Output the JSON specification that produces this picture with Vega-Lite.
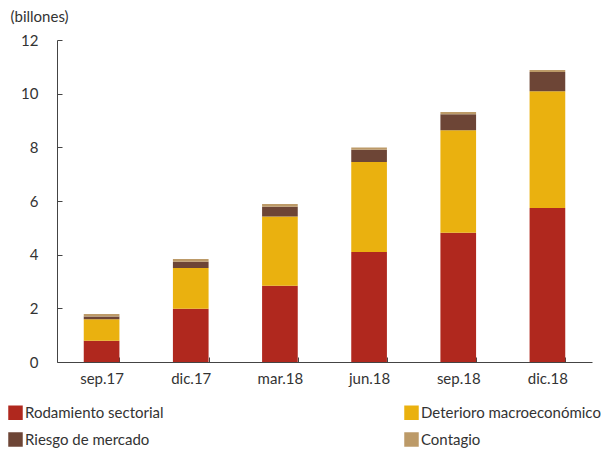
{
  "$schema": "https://vega.github.io/schema/vega-lite/v6.json",
  "width": 535,
  "height": 322,
  "autosize": {"type": "none"},
  "padding": {"left": 57, "top": 40, "right": 19, "bottom": 89},
  "background": "white",
  "config": {
    "view": {"stroke": null},
    "font": "Lato",
    "axis": {"grid": false, "domainColor": "#444", "tickColor": "#444", "labelColor": "#333", "labelFont": "Lato", "labelFontSize": 15}
  },
  "data": {
    "values": [
      {"periodo": "sep.17", "componente": "Rodamiento sectorial", "orden": 1, "valor": 0.79},
      {"periodo": "sep.17", "componente": "Deterioro macroeconómico", "orden": 2, "valor": 0.80},
      {"periodo": "sep.17", "componente": "Riesgo de mercado", "orden": 3, "valor": 0.11},
      {"periodo": "sep.17", "componente": "Contagio", "orden": 4, "valor": 0.09},
      {"periodo": "dic.17", "componente": "Rodamiento sectorial", "orden": 1, "valor": 1.98},
      {"periodo": "dic.17", "componente": "Deterioro macroeconómico", "orden": 2, "valor": 1.52},
      {"periodo": "dic.17", "componente": "Riesgo de mercado", "orden": 3, "valor": 0.24},
      {"periodo": "dic.17", "componente": "Contagio", "orden": 4, "valor": 0.10},
      {"periodo": "mar.18", "componente": "Rodamiento sectorial", "orden": 1, "valor": 2.84},
      {"periodo": "mar.18", "componente": "Deterioro macroeconómico", "orden": 2, "valor": 2.58},
      {"periodo": "mar.18", "componente": "Riesgo de mercado", "orden": 3, "valor": 0.37},
      {"periodo": "mar.18", "componente": "Contagio", "orden": 4, "valor": 0.10},
      {"periodo": "jun.18", "componente": "Rodamiento sectorial", "orden": 1, "valor": 4.10},
      {"periodo": "jun.18", "componente": "Deterioro macroeconómico", "orden": 2, "valor": 3.35},
      {"periodo": "jun.18", "componente": "Riesgo de mercado", "orden": 3, "valor": 0.46},
      {"periodo": "jun.18", "componente": "Contagio", "orden": 4, "valor": 0.08},
      {"periodo": "sep.18", "componente": "Rodamiento sectorial", "orden": 1, "valor": 4.82},
      {"periodo": "sep.18", "componente": "Deterioro macroeconómico", "orden": 2, "valor": 3.82},
      {"periodo": "sep.18", "componente": "Riesgo de mercado", "orden": 3, "valor": 0.59},
      {"periodo": "sep.18", "componente": "Contagio", "orden": 4, "valor": 0.09},
      {"periodo": "dic.18", "componente": "Rodamiento sectorial", "orden": 1, "valor": 5.74},
      {"periodo": "dic.18", "componente": "Deterioro macroeconómico", "orden": 2, "valor": 4.35},
      {"periodo": "dic.18", "componente": "Riesgo de mercado", "orden": 3, "valor": 0.72},
      {"periodo": "dic.18", "componente": "Contagio", "orden": 4, "valor": 0.07}
    ]
  },
  "mark": {"type": "bar"},
  "encoding": {
    "x": {
      "field": "periodo",
      "type": "nominal",
      "sort": ["sep.17", "dic.17", "mar.18", "jun.18", "sep.18", "dic.18"],
      "scale": {"paddingInner": 0.6, "paddingOuter": 0.3},
      "axis": {"title": null, "labelAngle": 0, "tickBand": "extent", "tickSize": -5, "labelPadding": 26, "labelBaseline": "alphabetic"}
    },
    "y": {
      "field": "valor",
      "type": "quantitative",
      "aggregate": "sum",
      "stack": "zero",
      "scale": {"domain": [0, 12], "nice": false},
      "axis": {
        "values": [0, 2, 4, 6, 8, 10, 12],
        "tickSize": -5,
        "labelPadding": 24,
        "title": "(billones)",
        "titleAngle": 0,
        "titleAlign": "left",
        "titleBaseline": "middle",
        "titleX": -47,
        "titleY": -24,
        "titleFont": "Lato",
        "titleFontSize": 15,
        "titleFontWeight": "normal",
        "titleColor": "#333"
      }
    },
    "color": {
      "field": "componente",
      "type": "nominal",
      "scale": {
        "domain": ["Rodamiento sectorial", "Riesgo de mercado", "Deterioro macroeconómico", "Contagio"],
        "range": ["#B0281E", "#6D4536", "#EAB10F", "#BC9A68"]
      },
      "legend": {
        "title": null,
        "orient": "none",
        "legendX": -49,
        "legendY": 365,
        "columns": 2,
        "columnPadding": 240,
        "rowPadding": 11,
        "symbolType": "square",
        "symbolSize": 210,
        "symbolStrokeWidth": 0,
        "labelFont": "Lato",
        "labelFontSize": 15,
        "labelColor": "#333",
        "labelOffset": 2,
        "labelLimit": 300
      }
    },
    "order": {"field": "orden", "type": "quantitative"}
  }
}
